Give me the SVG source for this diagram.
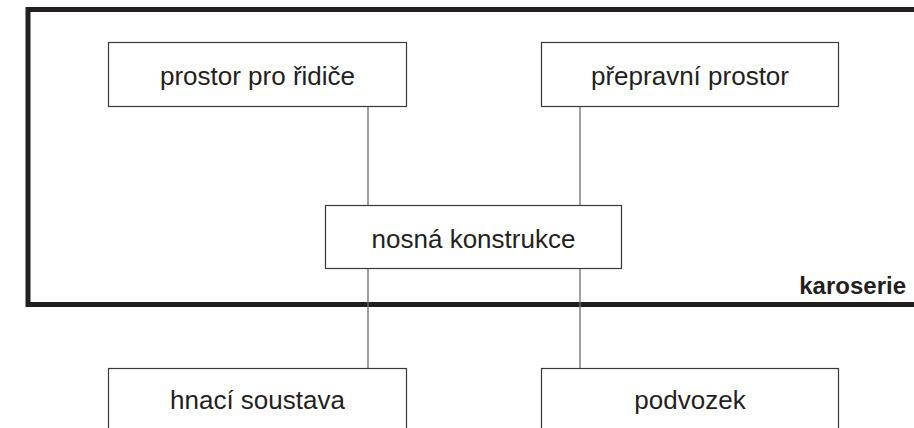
<svg xmlns="http://www.w3.org/2000/svg" width="914" height="428" viewBox="0 0 914 428">
<style>
.box{fill:#fff;stroke:#3a3a3a;stroke-width:1.2}
.lbl{font-family:"Liberation Sans",Arial,sans-serif;font-size:26px;fill:#231f20;text-anchor:middle}
.conn{stroke:#6e6e6e;stroke-width:1.3;fill:none}
.frame{stroke:#231f20;stroke-width:5;fill:none}
.title{font-family:"Liberation Sans",Arial,sans-serif;font-size:24px;font-weight:bold;fill:#231f20;text-anchor:end}
</style>
<rect width="914" height="428" fill="#fff"/>
<g id="karoserie">
<path class="frame" d="M916 9.5H28V304.5H916"/>
<text class="title" x="906" y="293.5">karoserie</text>
</g>
<g id="connectors">
<line class="conn" x1="368" y1="107" x2="368" y2="368"/>
<line class="conn" x1="580" y1="107" x2="580" y2="368"/>
</g>
<g id="prostor-pro-ridice">
<rect class="box" x="108.5" y="42.5" width="298" height="64"/>
<text class="lbl" x="257.5" y="84.5">prostor pro řidiče</text>
</g>
<g id="prepravni-prostor">
<rect class="box" x="541.5" y="42.5" width="297" height="64"/>
<text class="lbl" x="690" y="84.5">přepravní prostor</text>
</g>
<g id="nosna-konstrukce">
<rect class="box" x="325.5" y="205.5" width="296" height="63"/>
<text class="lbl" x="473.5" y="248">nosná konstrukce</text>
</g>
<g id="hnaci-soustava">
<rect class="box" x="108.5" y="368.5" width="298" height="70"/>
<text class="lbl" x="257.5" y="409">hnací soustava</text>
</g>
<g id="podvozek">
<rect class="box" x="541.5" y="368.5" width="297" height="70"/>
<text class="lbl" x="690" y="409">podvozek</text>
</g>
</svg>
